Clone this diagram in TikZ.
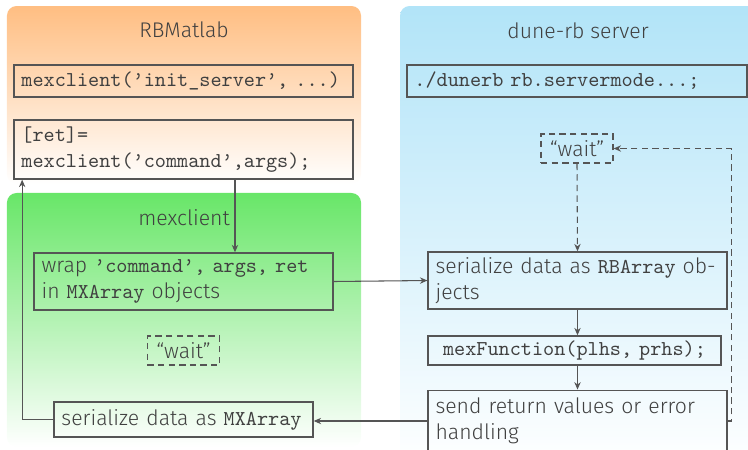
\documentclass[tikz,border=0pt]{standalone}
\usepackage{fontspec}
\setmainfont{Fira Sans Light}
\setmonofont{Latin Modern Mono}
\usetikzlibrary{arrows.meta,positioning}

\definecolor{ink}{RGB}{64,64,64}
\definecolor{edge}{RGB}{85,85,85}
\definecolor{rbtop}{RGB}{255,190,130}
\definecolor{mextop}{RGB}{104,230,104}
\definecolor{dunetop}{RGB}{178,228,248}

\newcommand\code[1]{{\mdseries\ttfamily #1}}

\begin{document}
\begin{tikzpicture}[
    x=0.472pt, y=-0.472pt,
    text=ink,
    region/.style={rounded corners=4.5pt, bottom color=white, inner sep=0pt},
    box/.style={draw=edge, line width=0.7pt, align=left, inner xsep=3.5pt, inner ysep=2pt},
    waitbox/.style={draw=edge, line width=0.6pt, dash pattern=on 3pt off 2pt,
                    minimum width=34pt, minimum height=13.7pt, inner sep=1pt},
    arr/.style={draw=edge, line width=0.5pt, -{Stealth[length=3.5pt,width=3pt]}},
    darr/.style={arr, dash pattern=on 3pt off 2pt}]

  \useasboundingbox (0,0) rectangle (748,449);

  % the three parts
  \node[region, top color=rbtop, minimum width=167.1pt, minimum height=84pt] (rbm) at (184,95) {};
  \node[region, top color=mextop, minimum width=167.1pt, minimum height=119.9pt] (mex) at (184,320) {};
  \node[region, top color=dunetop, minimum width=174.6pt, minimum height=219pt] (dunerb) at (585,238) {};

  \node (rbmtitle) at (184,30) {RBMatlab};
  \node (mextitle) at (184,218) {mexclient};
  \node (dunetitle) at (578,31) {dune-rb server};

  % RBMatlab
  \node[box, text width=153pt, minimum height=15.1pt] (init) at (183.5,81)
    {\code{mexclient(’init\_server’, ...)}};
  \node[box, text width=153pt, minimum height=27.8pt] (ret) at (183.5,149.5)
    {\code{[ret]=}\\\code{mexclient(’command’,args);}};

  % mexclient
  \node[box, text width=134pt, minimum height=26.9pt] (wrap) at (183.5,281.5)
    {wrap \code{’command’, args, ret}\\in \code{MXArray} objects};
  \node[waitbox] (waitmex) at (183.5,350.5) {“wait”};
  \node[box, text width=115.2pt, minimum height=16.5pt] (sermx) at (183.5,419.5)
    {serialize data as \code{MXArray}};

  % dune-rb server
  \node[box, text width=153.5pt, minimum height=15.1pt] (dune) at (577,81)
    {\code{./dunerb rb.servermode...;}};
  \node[waitbox] (waitsrv) at (577,148.5) {“wait”};
  \node[box, text width=134pt, minimum height=26.9pt] (serrb) at (577.5,280.5)
    {serialize data as \code{RBArray} ob-\\jects};
  \node[box, align=center, text width=131.3pt, minimum height=13.7pt] (mexfun) at (574.5,350.5)
    {\code{mexFunction(plhs, prhs);}};
  \node[box, text width=134pt, minimum height=29pt] (send) at (577.5,421)
    {send return values or error\\handling};

  \draw[arr] ([xshift=24.3pt]ret.south) -- ([xshift=24.3pt]wrap.north);
  \draw[arr] (wrap.east) -- (serrb.west);
  \draw[darr] (waitsrv.south) -- (serrb.north);
  \draw[arr] (serrb.south) -- (serrb.south |- mexfun.north);
  \draw[arr] (send.north |- mexfun.south) -- (send.north);
  \draw[darr] (send.east) -- ++(4,0) |- (waitsrv.east);
  \draw[arr] (send.west) -- (send.west -| sermx.east);
  \draw[arr] (sermx.west) -| ([xshift=4.2pt]ret.south west);
\end{tikzpicture}
\end{document}
